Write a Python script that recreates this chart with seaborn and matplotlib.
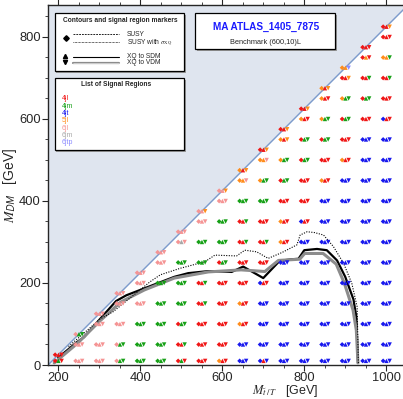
import matplotlib
matplotlib.use("Agg")
import matplotlib.pyplot as plt
import seaborn as sns
import pandas as pd
from matplotlib.patches import Rectangle
from matplotlib.lines import Line2D
from matplotlib.transforms import ScaledTranslation

# ---------------------------------------------------------------------------
# Benchmark grid: top-partner mass columns and the DM masses probed in each
# ---------------------------------------------------------------------------
partner_masses = [200, 250, 300, 350, 400, 450, 500, 550, 600, 650,
                  700, 750, 800, 850, 900, 950, 1000]

dm_masses = [
    [25, 10],
    [75, 50, 10],
    [125, 100, 50, 10],
    [175, 150, 100, 50, 10],
    [225, 200, 150, 100, 50, 10],
    [275, 250, 200, 150, 100, 50, 10],
    [325, 300, 250, 200, 150, 100, 50, 10],
    [375, 350, 300, 250, 200, 150, 100, 50, 10],
    [425, 400, 350, 300, 250, 200, 150, 100, 50, 10],
    [475, 450, 400, 350, 300, 250, 200, 150, 100, 50, 10],
    [525, 500, 450, 400, 350, 300, 250, 200, 150, 100, 50, 10],
    [575, 550, 500, 450, 400, 350, 300, 250, 200, 150, 100, 50, 10],
    [625, 600, 550, 500, 450, 400, 350, 300, 250, 200, 150, 100, 50, 10],
    [675, 650, 600, 550, 500, 450, 400, 350, 300, 250, 200, 150, 100, 50, 10],
    [725, 700, 650, 600, 550, 500, 450, 400, 350, 300, 250, 200, 150, 100, 50, 10],
    [775, 750, 700, 650, 600, 550, 500, 450, 400, 350, 300, 250, 200, 150, 100, 50, 10],
    [825, 800, 750, 700, 650, 600, 550, 500, 450, 400, 350, 300, 250, 200, 150, 100, 50, 10],
]

# Best signal region per point, one letter each for SUSY / XQ->SDM / XQ->VDM
best_sr = [
    "rrr rgr",
    "pgg ppp ppp",
    "ppp ppp ppp ppp",
    "ppp ppp ppp pgg pgg",
    "ppp ppp ppp ggg ggg ggg",
    "ppp ppp ggg ggg ggg ggg ggg",
    "ppp pkp ggg ggg ggg rgg rrg rgr",
    "ppo ppp ggg ggg rrg rrg rrr rrr rrr",
    "ppo ppp ggg ggg rgg rrr rrr rrr rrr orr",
    "oro oop ggg rrg rrg rrr rrr orr orr bbb bbb",
    "rro oop ogg ggg rrr rrg rrr brr bbb bbb bbb brb",
    "rro oro ogg rgg rrr orr orr bbb bbb bbb bbb bbb bbb",
    "rro orr rgg rgg rrr rrr brr bbb bbb bbb bbb bbb bbb bbb",
    "oro orr ogg rgg rrr orr bbb bbb bbb bbb bbb bbb bbb bbb bbb",
    "ool rro ogg rgg rrr orr bbb bbb bbb bbb bbb bbb bbb bbb bbb bbb",
    "rrr ror rrg rgg rrr bbb bbb bbb bbb bbb bbb bbb bbb bbb bbb bbb bbb",
    "rro rrr oog rrg rrr brr bbb bbb bbb bbb bbb bbb bbb bbb bbb bbb bbb bbb",
]

sr_names = {"r": "4jl", "g": "4jm", "b": "4jt", "o": "5jl",
            "p": "6jl", "k": "6jm", "l": "6jtp"}
sr_colors = {"4jl": "#f01616", "4jm": "#16a016", "4jt": "#1818ee",
             "5jl": "#ff8c1a", "6jl": "#f59494", "6jm": "#a8a8a8",
             "6jtp": "#8a8aff"}

# Exclusion contours (GeV)
susy_sigma_x = [225, 302, 334, 424, 449, 498, 517, 558, 582, 635, 655, 684,
                712, 745, 782, 790, 807, 825, 847, 871, 896, 916, 929, 932]
susy_sigma_y = [45, 112, 130, 203, 220, 236, 241, 252, 268, 266, 280, 276,
                260, 274, 293, 317, 325, 323, 317, 289, 248, 199, 142, 5]

sdm_x = [200, 246, 263, 300, 341, 366, 483, 517, 566, 623, 651, 700, 740,
         770, 786, 800, 831, 855, 880, 900, 920, 927, 931]
sdm_y = [18, 56, 68, 110, 156, 170, 215, 224, 229, 227, 240, 212, 254,
         258, 259, 280, 283, 280, 255, 215, 160, 118, 5]

vdm_x = [190, 247, 300, 353, 410, 483, 566, 646, 704, 737, 789, 801, 846,
         878, 898, 919, 927, 931]
vdm_y = [5, 53, 106, 154, 183, 212, 227, 232, 228, 255, 258, 272, 272,
         246, 199, 134, 85, 5]

m_top = 175

# ---------------------------------------------------------------------------
rows = []
for mx, col_dm, col_sr in zip(partner_masses, dm_masses, best_sr):
    for my, code in zip(col_dm, col_sr.split()):
        rows.append({"m_T": mx, "m_DM": my,
                     "susy": sr_names[code[0]],
                     "sdm": sr_names[code[1]],
                     "vdm": sr_names[code[2]]})
points = pd.DataFrame(rows)

sns.set_style("ticks")
plt.rcParams["font.family"] = ["Liberation Sans", "DejaVu Sans"]
plt.rcParams["mathtext.fontset"] = "stix"

W, H = 403, 399
fig = plt.figure(figsize=(W / 100, H / 100), dpi=100)
x0, x1, y0, y1 = 175, 1045, 0, 878
ax = fig.add_axes([48 / W, (H - 365) / H, (404.7 - 48) / W, 360 / H])
ax.set_xlim(x0, x1)
ax.set_ylim(y0, y1)

# kinematically forbidden region above M_DM = M_T - m_top
diag_x = [x0, x1]
diag_y = [x0 - m_top, x1 - m_top]
ax.fill_between(diag_x, diag_y, [y1, y1], color="#dfe5ef", lw=0, zorder=0)
ax.plot(diag_x, diag_y, color="#7c9bcc", lw=1.0, zorder=1)

# contours
sns.lineplot(x=sdm_x, y=sdm_y, sort=False, estimator=None, color="black",
             lw=1.6, ax=ax, zorder=3)
sns.lineplot(x=vdm_x, y=vdm_y, sort=False, estimator=None, color="#8c8c8c",
             lw=2.2, ax=ax, zorder=3)
sns.lineplot(x=susy_sigma_x, y=susy_sigma_y, sort=False, estimator=None,
             color="black", lw=0.8, linestyle=(0, (1, 1.3)), ax=ax, zorder=3)

# signal-region markers: diamond (SUSY), up (XQ->SDM), down (XQ->VDM)
for col, marker, size, dx in [("susy", "D", 6, -3.1),
                              ("sdm", "^", 10, 0.2),
                              ("vdm", "v", 10, 3.4)]:
    n_before = len(ax.collections)
    sns.scatterplot(data=points, x="m_T", y="m_DM", hue=col,
                    palette=sr_colors, marker=marker, s=size, linewidth=0,
                    legend=False, ax=ax, zorder=4)
    for coll in ax.collections[n_before:]:
        coll.set_offset_transform(
            ax.transData + ScaledTranslation(dx / 100, 0, fig.dpi_scale_trans))

ax.set_xticks([200, 400, 600, 800, 1000])
ax.set_yticks([0, 200, 400, 600, 800])
ax.set_xticks(range(200, 1041, 50), minor=True)
ax.set_yticks(range(0, 878, 50), minor=True)
ax.tick_params(which="major", direction="out", length=4, width=0.8,
               labelsize=9.3, top=True, pad=1.2)
ax.tick_params(which="minor", direction="out", length=2, width=0.6, top=True)
for s in ax.spines.values():
    s.set_linewidth(1.0)

ax.set_xlabel(r"$M_{\tilde{t}\,/\,T}$   [GeV]", fontsize=9)
ax.set_ylabel(r"$M_{\mathsf{DM}}$   [GeV]", fontsize=10)
ax.xaxis.set_label_coords((285 - 48) / 356.7, -0.051)
ax.yaxis.set_label_coords(-0.08, 0.5)


# ---------------------------------------------------------------------------
# Boxes drawn in pixel coordinates of the figure
def fx(px):
    return px / W


def fy(py):
    return 1 - py / H


def box(xa, ya, xb, yb):
    fig.add_artist(Rectangle((fx(xa + 1.5), fy(yb + 1.5)), (xb - xa) / W,
                             (yb - ya) / H, transform=fig.transFigure,
                             facecolor="#9a9a9a", edgecolor="none", zorder=5))
    fig.add_artist(Rectangle((fx(xa), fy(yb)), (xb - xa) / W, (yb - ya) / H,
                             transform=fig.transFigure, facecolor="white",
                             edgecolor="black", lw=0.9, zorder=6))


def txt(px, py, s, **kw):
    kw.setdefault("zorder", 7)
    fig.text(fx(px), fy(py), s, **kw)


def seg(xa, xb, py, **kw):
    fig.add_artist(Line2D([fx(xa), fx(xb)], [fy(py), fy(py)],
                          transform=fig.transFigure, zorder=7, **kw))


def mark(px, py, m, ms):
    fig.add_artist(Line2D([fx(px)], [fy(py)], marker=m, ms=ms, color="black",
                          lw=0, transform=fig.transFigure, zorder=7))


# contour / marker key
box(55, 13, 184, 71)
txt(120, 20, "Contours and signal region markers", fontsize=4.8,
    fontweight="bold", ha="center", va="center")
mark(66, 38, "D", 2.8)
seg(73, 119, 34, color="black", lw=0.6, linestyle=(0, (2.2, 1.2)))
seg(73, 119, 42, color="black", lw=0.6, linestyle=(0, (0.8, 0.9)))
txt(127, 34, "SUSY", fontsize=4.8, va="center")
txt(127, 42, r"SUSY with $\sigma_{\rm XQ}$", fontsize=4.8, va="center")
mark(65, 56, "^", 3.0)
mark(65, 62, "v", 3.0)
seg(73, 119, 57, color="black", lw=0.8)
seg(73, 119, 63, color="#8c8c8c", lw=1.6)
seg(73, 119, 63, color="white", lw=0.4)
txt(127, 57, "XQ to SDM", fontsize=4.8, va="center")
txt(127, 63, "XQ to VDM", fontsize=4.8, va="center")

# signal region key
box(55, 78, 184, 150)
txt(116, 85, "List of Signal Regions", fontsize=4.8, fontweight="bold",
    ha="center", va="center")
for i, name in enumerate(sr_colors):
    txt(62, 99 + 7.3 * i, name, fontsize=5.0, color=sr_colors[name],
        va="center")

# analysis tag
box(195, 13, 335, 49)
txt(266, 27, "MA ATLAS_1405_7875", fontsize=7.2, fontweight="bold",
    color="#1a1aff", ha="center", va="center")
txt(266, 42, "Benchmark (600,10)L", fontsize=5.3, ha="center", va="center")

fig.savefig("out.png", dpi=100)
